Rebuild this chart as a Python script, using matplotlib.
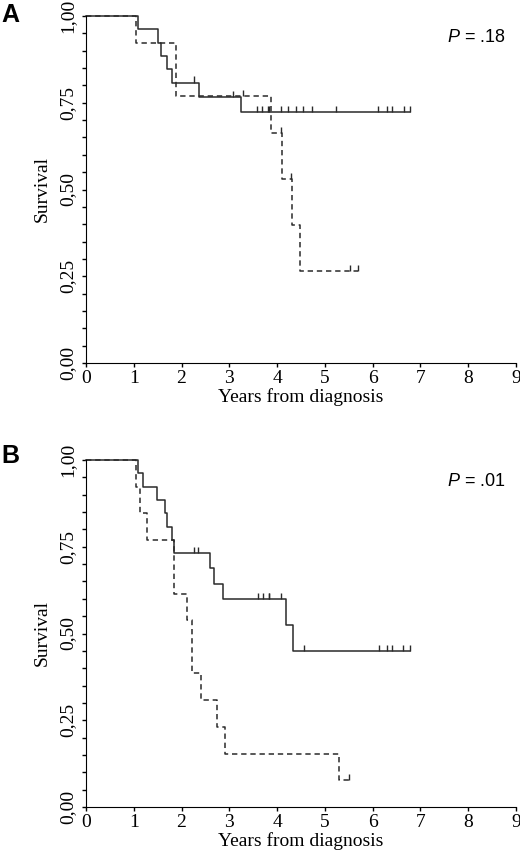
import numpy as np
import matplotlib
matplotlib.use('Agg')
import matplotlib.pyplot as plt

plt.rcParams['font.family'] = 'Liberation Serif'
plt.rcParams['mathtext.fontset'] = 'custom'
plt.rcParams['mathtext.it'] = 'Liberation Sans:italic'
plt.rcParams['mathtext.rm'] = 'Liberation Sans'

# panel A
a_solid_t = [0, 1.09, 1.50, 1.56, 1.69, 1.81, 2.36, 3.25]
a_solid_s = [1.0, 0.962, 0.923, 0.885, 0.846, 0.808, 0.767, 0.724]
a_solid_cens = [2.27, 3.08, 3.58, 3.69, 3.81, 3.84, 4.08, 4.22, 4.39, 4.55,
                4.74, 5.24, 6.12, 6.29, 6.40, 6.65, 6.78]
a_dash_t = [0, 1.05, 1.88, 3.88, 4.11, 4.32, 4.48]
a_dash_s = [1.0, 0.923, 0.769, 0.662, 0.529, 0.397, 0.265]
a_dash_cens = [3.29, 4.09, 4.29, 5.52, 5.70]
a_pval = '.18'

# panel B
b_solid_t = [0, 1.09, 1.20, 1.49, 1.65, 1.69, 1.81, 1.85, 2.59, 2.67, 2.86, 4.18, 4.33]
b_solid_s = [1.0, 0.962, 0.923, 0.885, 0.846, 0.808, 0.769, 0.731, 0.688, 0.642,
             0.599, 0.524, 0.450]
b_solid_cens = [2.26, 2.35, 3.59, 3.70, 3.82, 3.84, 4.08, 4.56, 6.13, 6.31, 6.41,
                6.63, 6.78]
b_dash_t = [0, 1.05, 1.12, 1.28, 1.85, 2.11, 2.22, 2.41, 2.75, 2.91, 5.29]
b_dash_s = [1.0, 0.923, 0.846, 0.769, 0.615, 0.538, 0.385, 0.308, 0.231, 0.154, 0.077]
b_dash_cens = [5.50]
b_pval = '.01'

y_ticks = [0, 0.25, 0.5, 0.75, 1.0]
y_ticklabels = ['0,00', '0,25', '0,50', '0,75', '1,00']
x_ticks = list(range(10))

line_col = '#2a2a2a'


def km_curve(ax, t, s, cens, ls):
    t = np.array(t)
    s = np.array(s)
    cens = np.array(cens)
    t_end = max(t[-1], cens.max()) if len(cens) else t[-1]
    tt = np.append(t, t_end)
    ss = np.append(s, s[-1])
    ax.step(tt, ss, where='post', color=line_col, lw=1.1, linestyle=ls,
            clip_on=False)
    idx = np.searchsorted(t, cens, side='right') - 1
    cs = s[idx]
    ax.vlines(cens, cs, cs + 0.018, color=line_col, lw=1.0, clip_on=False)


def setup_axes(ax):
    ax.set_xlim(0, 9)
    ax.set_ylim(0, 1)
    ax.spines['top'].set_visible(False)
    ax.spines['right'].set_visible(False)
    ax.set_xticks(x_ticks)
    ax.set_xticklabels([str(x) for x in x_ticks], fontsize=14)
    ax.set_yticks(y_ticks)
    ax.set_yticks(np.arange(0, 1.001, 0.05), minor=True)
    ax.set_yticklabels(y_ticklabels, fontsize=14, rotation=90, va='center')
    ax.tick_params(axis='both', which='both', direction='out', length=3,
                   width=1, pad=2)
    ax.tick_params(axis='y', pad=4)
    ax.set_xlabel('Years from diagnosis', fontsize=14, labelpad=1)
    ax.set_ylabel('Survival', fontsize=14, labelpad=6)


fig = plt.figure(figsize=(5.2, 8.61), dpi=100)
ax1 = fig.add_axes([86/520, 1-363/861, 430/520, 347/861])
ax2 = fig.add_axes([86/520, 1-807/861, 430/520, 347/861])

for ax, st, ss, sc, dt, ds, dc, pv in [
        (ax1, a_solid_t, a_solid_s, a_solid_cens, a_dash_t, a_dash_s, a_dash_cens, a_pval),
        (ax2, b_solid_t, b_solid_s, b_solid_cens, b_dash_t, b_dash_s, b_dash_cens, b_pval)]:
    setup_axes(ax)
    km_curve(ax, st, ss, sc, '-')
    km_curve(ax, dt, ds, dc, (0, (3.5, 2.5)))
    ax.text(8.79, 0.926, '$P$ = ' + pv, ha='right', va='baseline', fontsize=13,
            family='Liberation Sans')

fig.text(0.002, 1-22/861, 'A', fontsize=18, fontweight='bold',
         family='Liberation Sans', va='baseline')
fig.text(0.002, 1-463/861, 'B', fontsize=18, fontweight='bold',
         family='Liberation Sans', va='baseline')

fig.savefig('out.png', dpi=100)
